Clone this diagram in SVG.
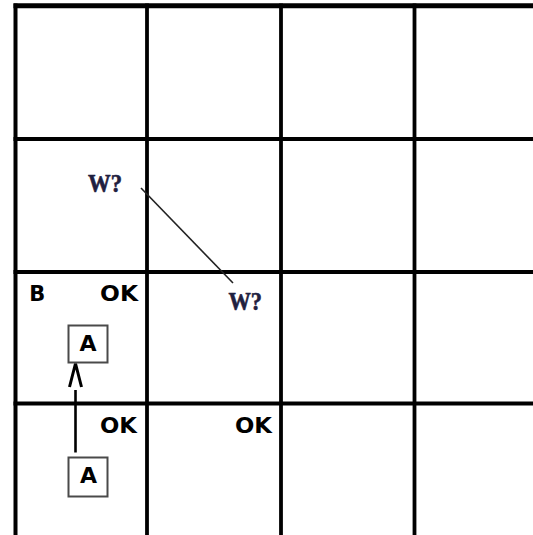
<svg xmlns="http://www.w3.org/2000/svg" width="533" height="535" viewBox="0 0 533 535">
  <style>
    .grid { stroke: #000; stroke-width: 3.8; fill: none; }
    .lbl { font-family: "DejaVu Sans", "Liberation Sans", sans-serif; font-weight: bold; font-size: 20.5px; fill: #000; }
    .w { font-family: "Liberation Serif", "Times New Roman", serif; font-weight: bold; font-size: 25px; fill: #1f2040; stroke: #1f2040; stroke-width: 0.6; }
    .box { fill: #fff; stroke: #4a4a4a; stroke-width: 2; }
    .boxtxt { font-family: "DejaVu Sans", "Liberation Sans", sans-serif; font-weight: bold; font-size: 22px; fill: #000; text-anchor: middle; }
  </style>
  <rect x="0" y="0" width="533" height="535" fill="#fff"/>
  <g id="grid">
    <line class="grid" x1="15.5" y1="3.5" x2="15.5" y2="535" style="stroke-width:4"/>
    <line class="grid" x1="147" y1="3.5" x2="147" y2="535"/>
    <line class="grid" x1="281" y1="3.5" x2="281" y2="535"/>
    <line class="grid" x1="414.5" y1="3.5" x2="414.5" y2="535"/>
    <line class="grid" x1="13.5" y1="5.8" x2="533" y2="5.8" style="stroke-width:5"/>
    <line class="grid" x1="13.5" y1="139" x2="533" y2="139"/>
    <line class="grid" x1="13.5" y1="272" x2="533" y2="272"/>
    <line class="grid" x1="13.5" y1="403.5" x2="533" y2="403.5"/>
    <line class="grid" x1="13.5" y1="537" x2="533" y2="537" style="stroke-width:4"/>
  </g>
  <g id="connectors">
    <line x1="141" y1="188" x2="233" y2="283" stroke="#222" stroke-width="1.6"/>
    <line x1="75.5" y1="390" x2="75.5" y2="452.5" stroke="#000" stroke-width="2.6"/>
    <polyline points="69.5,387 75.5,363.5 81.5,387" fill="none" stroke="#000" stroke-width="3" stroke-linejoin="miter"/>
  </g>
  <g id="node-w1"><text class="w" x="88" y="191.5" textLength="34" lengthAdjust="spacingAndGlyphs">W?</text></g>
  <g id="node-w2"><text class="w" x="228.5" y="310" textLength="33.5" lengthAdjust="spacingAndGlyphs">W?</text></g>
  <g id="node-b"><text class="lbl" x="29.3" y="301.3" textLength="16" lengthAdjust="spacingAndGlyphs">B</text></g>
  <g id="node-ok1"><text class="lbl" x="100" y="301.3" textLength="38" lengthAdjust="spacingAndGlyphs">OK</text></g>
  <g id="node-ok2"><text class="lbl" x="100" y="433.3" textLength="37" lengthAdjust="spacingAndGlyphs">OK</text></g>
  <g id="node-ok3"><text class="lbl" x="235" y="433.3" textLength="37" lengthAdjust="spacingAndGlyphs">OK</text></g>
  <g id="node-a1">
    <rect class="box" x="68.5" y="325.5" width="39" height="37"/>
    <text class="boxtxt" x="88" y="350.7">A</text>
  </g>
  <g id="node-a2">
    <rect class="box" x="68.5" y="457.5" width="39" height="39"/>
    <text class="boxtxt" x="88.5" y="482.7">A</text>
  </g>
</svg>
